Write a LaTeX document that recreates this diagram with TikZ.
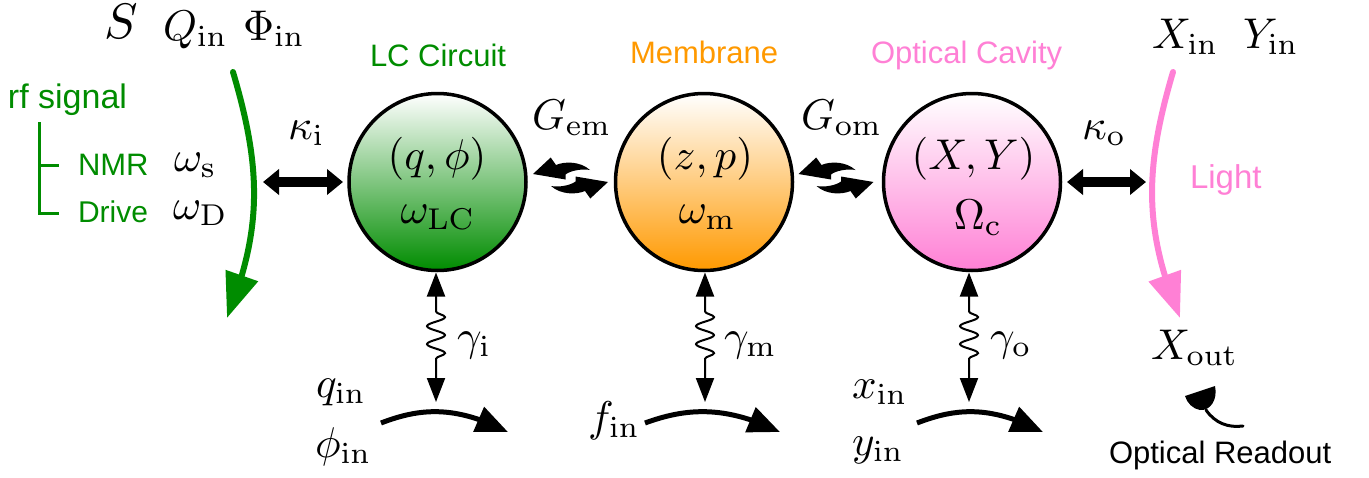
\documentclass[tikz,border=0pt]{standalone}
\usepackage[no-math]{fontspec}
\setsansfont{Liberation Sans}
\usetikzlibrary{arrows.meta,decorations.pathmorphing,bending}
\definecolor{cgreen}{RGB}{0,140,0}
\definecolor{corange}{RGB}{255,153,0}
\definecolor{cpink}{RGB}{255,128,213}
\newcommand\swooshhalf{\fill (-37.5,-4) -- (-19.8,-20.5) -- (-14.5,-13) .. controls (-5,-17) and (10,-16.5) .. (19.5,-8) .. controls (12,-9.5) and (0,-7.5) .. (-5,-3.5) -- (-5,1.5) -- cycle;}
\tikzset{
 x=1pt,y=-1pt,
 mlab/.style={inner sep=0pt,outer sep=0pt,anchor=base west,scale=4.3},
 mlabc/.style={inner sep=0pt,outer sep=0pt,anchor=base,scale=4.3},
 slab/.style={inner sep=0pt,outer sep=0pt,anchor=base west,font=\sffamily\fontsize{31}{34}\selectfont},
 res/.style={circle,draw=black,line width=3.5pt,minimum size=177pt,inner sep=0pt,outer sep=0pt},
 bigarrow/.style={line width=6pt,-{Triangle[length=45pt,width=33pt]}},
 couple/.style={line width=10pt,{Triangle[length=16pt,width=25pt]}-{Triangle[length=16pt,width=25pt]}},
 bath/.style={line width=2pt,{Triangle[length=24pt,width=18pt]}-{Triangle[length=24pt,width=18pt]},
   decorate,decoration={snake,segment length=18pt,amplitude=9pt,pre length=39pt,post length=35pt}},
 flow/.style={line width=5pt,-{Triangle[length=32pt,width=26pt]}},
}
\begin{document}
\begin{tikzpicture}
\useasboundingbox (0,0) rectangle (1369,477);
% resonators
\node[res,top color=white,bottom color=cgreen] (lc) at (437.5,182) {};
\node[res,top color=white,bottom color=corange] (mem) at (704,182) {};
\node[res,top color=white,bottom color=cpink] (cav) at (972,182) {};
\node[mlabc] (lc1) at (437,169) {$(q,\phi)$};
\node[mlabc] (lc2) at (438,223) {$\omega_{\mathrm{LC}}$};
\node[mlabc] (mem1) at (705,169) {$(z,p)$};
\node[mlabc] (mem2) at (707.5,223) {$\omega_{\mathrm{m}}$};
\node[mlabc] (cav1) at (973.5,169) {$(X,Y)$};
\node[mlabc] (cav2) at (978,229) {$\Omega_{\mathrm{c}}$};
% titles
\node[slab,text=cgreen] (t1) at (370,66) {LC Circuit};
\node[slab,text=corange] (t2) at (630,63) {Membrane};
\node[slab,text=cpink] (t3) at (871,63) {Optical Cavity};
% rf side
\node[slab,text=cgreen,font=\sffamily\fontsize{34}{36}\selectfont] (rf) at (8,108) {rf signal};
\node[slab,text=cgreen] (nmr) at (78,175) {NMR};
\node[slab,text=cgreen,font=\sffamily\fontsize{30}{34}\selectfont] (drive) at (78,222) {Drive};
\draw[cgreen,line width=3pt] (39,122) -- (39,213) -- (59,213) (39,165) -- (59,165);
\node[mlab] (ws) at (174,171) {$\omega_{\mathrm{s}}$};
\node[mlab] (wd) at (173,219) {$\omega_{\mathrm{D}}$};
\node[mlab,scale=1.16] (S) at (104,38) {$S$};
\node[mlab] (Q) at (163,40) {$Q_{\mathrm{in}}$};
\node[mlab] (P) at (243,40) {$\Phi_{\mathrm{in}}$};
\coordinate (ga) at (233,72);
\coordinate (gb) at (227,318);
\draw[bigarrow,cgreen,line cap=round] (ga) .. controls (262,170) and (262,230) .. (gb);
% optical side
\node[mlab] (Xi) at (1152,48) {$X_{\mathrm{in}}$};
\node[mlab] (Yi) at (1243,48) {$Y_{\mathrm{in}}$};
\node[slab,text=cpink,font=\sffamily\fontsize{33}{36}\selectfont] (light) at (1190,188) {Light};
\coordinate (pa) at (1173,72);
\coordinate (pb) at (1180,318);
\draw[bigarrow,cpink,line cap=round] (pa) .. controls (1144,170) and (1144,230) .. (pb);
\node[mlab] (Xo) at (1151,359) {$X_{\mathrm{out}}$};
% couplings
\coordinate (ki) at (263,182);
\coordinate (ko) at (1146,182);
\draw[couple] (ki) -- ([xshift=-6pt]lc.west);
\draw[couple] (ko) -- ([xshift=6.5pt]cav.east);
\node[mlab] (kil) at (288,139) {$\kappa_{\mathrm{i}}$};
\node[mlab] (kol) at (1082,139) {$\kappa_{\mathrm{o}}$};
\node[mlab] (gem) at (532,129) {$G_{\mathrm{em}}$};
\node[mlab] (gom) at (801,129) {$G_{\mathrm{om}}$};
\begin{scope}[shift={(570.5,178)}]
\swooshhalf
\begin{scope}[rotate=180]\swooshhalf\end{scope}
\end{scope}
\begin{scope}[shift={(836,178)}]
\swooshhalf
\begin{scope}[rotate=180]\swooshhalf\end{scope}
\end{scope}
% baths
\coordinate (b1) at (436,402);
\coordinate (b2) at (705,402);
\coordinate (b3) at (969,402);
\draw[bath] ([xshift=-1.5pt,yshift=-2pt]lc.south) -- (b1);
\draw[bath] ([xshift=1pt,yshift=-2pt]mem.south) -- (b2);
\draw[bath] ([xshift=-3pt,yshift=-2pt]cav.south) -- (b3);
\node[mlab] (gi) at (457,350) {$\gamma_{\mathrm{i}}$};
\node[mlab] (gm) at (724,350) {$\gamma_{\mathrm{m}}$};
\node[mlab] (go) at (990,350) {$\gamma_{\mathrm{o}}$};
% input flows
\coordinate (f1a) at (381,423); \coordinate (f1b) at (508,432);
\coordinate (f2a) at (645,423); \coordinate (f2b) at (780,432);
\coordinate (f3a) at (917,423); \coordinate (f3b) at (1043,432);
\draw[flow] (f1a) .. controls (420,408) and (455,405) .. (f1b);
\draw[flow] (f2a) .. controls (686,408) and (725,405) .. (f2b);
\draw[flow] (f3a) .. controls (956,408) and (990,405) .. (f3b);
\node[mlab] (qi) at (316,397) {$q_{\mathrm{in}}$};
\node[mlab] (phi) at (315,457) {$\phi_{\mathrm{in}}$};
\node[mlab] (fi) at (588,431) {$f_{\mathrm{in}}$};
\node[mlab] (xi) at (852,398) {$x_{\mathrm{in}}$};
\node[mlab] (yi) at (852,455) {$y_{\mathrm{in}}$};
% readout
\fill (1185,396) -- (1215,386) .. controls (1218,400) and (1210,411) .. (1200,410) .. controls (1193,409) and (1187,403) .. cycle;
\draw[line width=3pt,line cap=round] (1206,410) .. controls (1215,423) and (1228,428) .. (1243,426);
\node[slab] (ro) at (1109,463) {Optical Readout};
\end{tikzpicture}
\end{document}
